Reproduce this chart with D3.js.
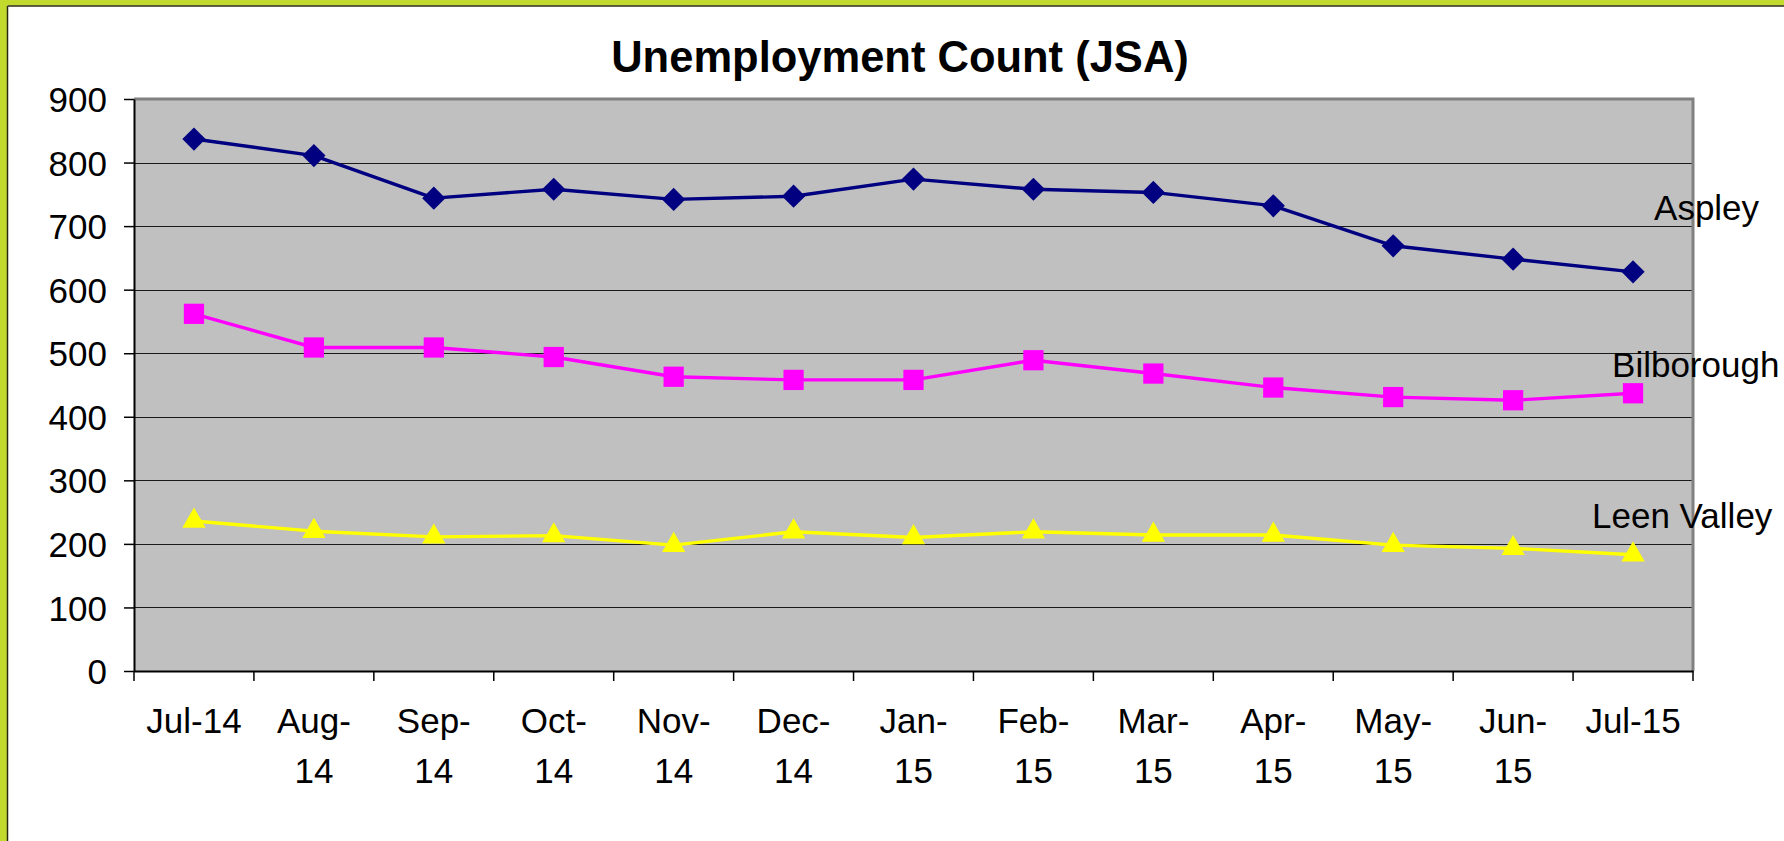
<!DOCTYPE html>
<html>
<head>
<meta charset="utf-8">
<script src="https://cdn.jsdelivr.net/npm/d3@7"></script>
<style>
  html, body { margin: 0; padding: 0; background: #fff; }
  svg { display: block; font-family: "Liberation Sans", Arial, sans-serif; }
</style>
</head>
<body>
<div id="chart"></div>
<script>
const months = ["Jul-14", "Aug-14", "Sep-14", "Oct-14", "Nov-14", "Dec-14", "Jan-15",
                "Feb-15", "Mar-15", "Apr-15", "May-15", "Jun-15", "Jul-15"];
const tickLabels = [["Jul-14"], ["Aug-", "14"], ["Sep-", "14"], ["Oct-", "14"], ["Nov-", "14"],
                    ["Dec-", "14"], ["Jan-", "15"], ["Feb-", "15"], ["Mar-", "15"], ["Apr-", "15"],
                    ["May-", "15"], ["Jun-", "15"], ["Jul-15"]];
const yTicks = [0, 100, 200, 300, 400, 500, 600, 700, 800, 900];

const aspley = [837, 811, 744, 758, 742, 747, 774, 758, 753, 732, 669, 648, 628];
const bilborough = [562, 509, 509, 494, 463, 458, 458, 489, 468, 446, 431, 426, 437];
const leenValley = [236, 220, 211, 213, 198, 219, 210, 219, 214, 214, 198, 193, 183];

const seriesNames = ["Aspley", "Bilborough", "Leen Valley"];

const svgWidth = 1784;
const svgHeight = 841;
const plot = { left: 134, right: 1693, top: 99, bottom: 671 };

const svg = d3.select("#chart")
    .append("svg")
    .attr("width", svgWidth)
    .attr("height", svgHeight);

// outer frame (green, top and left only as in the source)
svg.append("rect").attr("x", 0).attr("y", 0).attr("width", svgWidth).attr("height", 5.5).attr("fill", "#c2d92e");
svg.append("rect").attr("x", 0).attr("y", 0).attr("width", 7).attr("height", svgHeight).attr("fill", "#c2d92e");
svg.append("line").attr("x1", 7.5).attr("x2", svgWidth).attr("y1", 6).attr("y2", 6)
    .attr("stroke", "#2a2a10").attr("stroke-width", 1.5);
svg.append("line").attr("x1", 7.5).attr("x2", 7.5).attr("y1", 6).attr("y2", svgHeight)
    .attr("stroke", "#2a2a10").attr("stroke-width", 1.5);

const x = d3.scaleBand()
    .domain(months)
    .range([plot.left, plot.right])
    .padding(0);

const y = d3.scaleLinear()
    .domain([0, 900])
    .range([plot.bottom, plot.top]);

// plot area
svg.append("rect")
    .attr("x", plot.left).attr("y", plot.top)
    .attr("width", plot.right - plot.left).attr("height", plot.bottom - plot.top)
    .attr("fill", "#c0c0c0");

// gridlines
svg.append("g")
    .selectAll("line")
    .data(yTicks.filter(d => d > 0 && d < 900))
    .enter()
    .append("line")
    .attr("x1", plot.left).attr("x2", plot.right)
    .attr("y1", d => Math.round(y(d)) + 0.5).attr("y2", d => Math.round(y(d)) + 0.5)
    .attr("stroke", "#1a1a1a").attr("stroke-width", 1.2);

// gray frame top/right
svg.append("path")
    .attr("d", `M${plot.left},${plot.top}H${plot.right}V${plot.bottom}`)
    .attr("fill", "none").attr("stroke", "#808080").attr("stroke-width", 3);

// title
svg.append("text")
    .attr("x", 900).attr("y", 72)
    .attr("text-anchor", "middle")
    .attr("font-size", 43.5).attr("font-weight", "bold")
    .text("Unemployment Count (JSA)");

// y axis
const yAxis = svg.append("g")
    .attr("transform", `translate(${plot.left},0)`)
    .call(d3.axisLeft(y).tickValues(yTicks).tickSize(10).tickSizeOuter(0).tickPadding(17));
yAxis.select(".domain").attr("stroke", "#000").attr("stroke-width", 2);
yAxis.selectAll(".tick line").attr("stroke", "#000").attr("stroke-width", 1.5);
yAxis.selectAll(".tick text")
    .attr("font-family", "Liberation Sans, Arial, sans-serif")
    .attr("font-size", 35).attr("fill", "#000").attr("dy", "0.36em");

// x axis: labels at band centres, ticks at band edges
const xAxis = svg.append("g")
    .attr("transform", `translate(0,${plot.bottom})`)
    .call(d3.axisBottom(x).tickSize(0).tickSizeOuter(0).tickPadding(37));
xAxis.select(".domain").attr("stroke", "#000").attr("stroke-width", 2);
xAxis.selectAll(".tick text")
    .attr("font-family", "Liberation Sans, Arial, sans-serif")
    .attr("font-size", 35).attr("fill", "#000")
    .each(function(d, i) {
        const t = d3.select(this).text(null);
        tickLabels[i].forEach((line, j) => {
            t.append("tspan").attr("x", 0).attr("dy", j === 0 ? "0.71em" : "50px").text(line);
        });
    });
xAxis.selectAll(".edge-tick")
    .data(d3.range(months.length + 1))
    .enter()
    .append("line")
    .attr("class", "edge-tick")
    .attr("x1", i => x.range()[0] + i * x.step()).attr("x2", i => x.range()[0] + i * x.step())
    .attr("y1", 0).attr("y2", 10)
    .attr("stroke", "#000").attr("stroke-width", 1.5);

// series
const series = [
    { name: seriesNames[0], values: aspley, color: "#000080", symbol: "diamond", dx: 21, dy: -52 },
    { name: seriesNames[1], values: bilborough, color: "#ff00ff", symbol: "square", dx: -21, dy: -16 },
    { name: seriesNames[2], values: leenValley, color: "#ffff00", symbol: "triangle", dx: -41, dy: -27 }
];

const line = d3.line()
    .x((d, i) => x(months[i]) + x.bandwidth() / 2)
    .y(d => y(d));

series.forEach(s => {
    svg.append("path")
        .datum(s.values)
        .attr("fill", "none")
        .attr("stroke", s.color)
        .attr("stroke-width", 3.4)
        .attr("stroke-linejoin", "round")
        .attr("d", line);

    let sym;
    if (s.symbol === "diamond") sym = d3.symbol().type(d3.symbolSquare).size(270);
    else if (s.symbol === "square") sym = d3.symbol().type(d3.symbolSquare).size(410);
    else sym = d3.symbol().type(d3.symbolTriangle).size(235);

    svg.append("g")
        .selectAll("path")
        .data(s.values)
        .enter()
        .append("path")
        .attr("d", sym)
        .attr("fill", s.color)
        .attr("transform", (d, i) => {
            const cx = x(months[i]) + x.bandwidth() / 2;
            const cy = y(d);
            return s.symbol === "diamond"
                ? `translate(${cx},${cy}) rotate(45)`
                : `translate(${cx},${cy})`;
        });

    const last = s.values.length - 1;
    svg.append("text")
        .attr("x", x(months[last]) + x.bandwidth() / 2 + s.dx)
        .attr("y", y(s.values[last]) + s.dy)
        .attr("font-size", 35)
        .attr("fill", "#000")
        .text(s.name);
});
</script>
</body>
</html>
